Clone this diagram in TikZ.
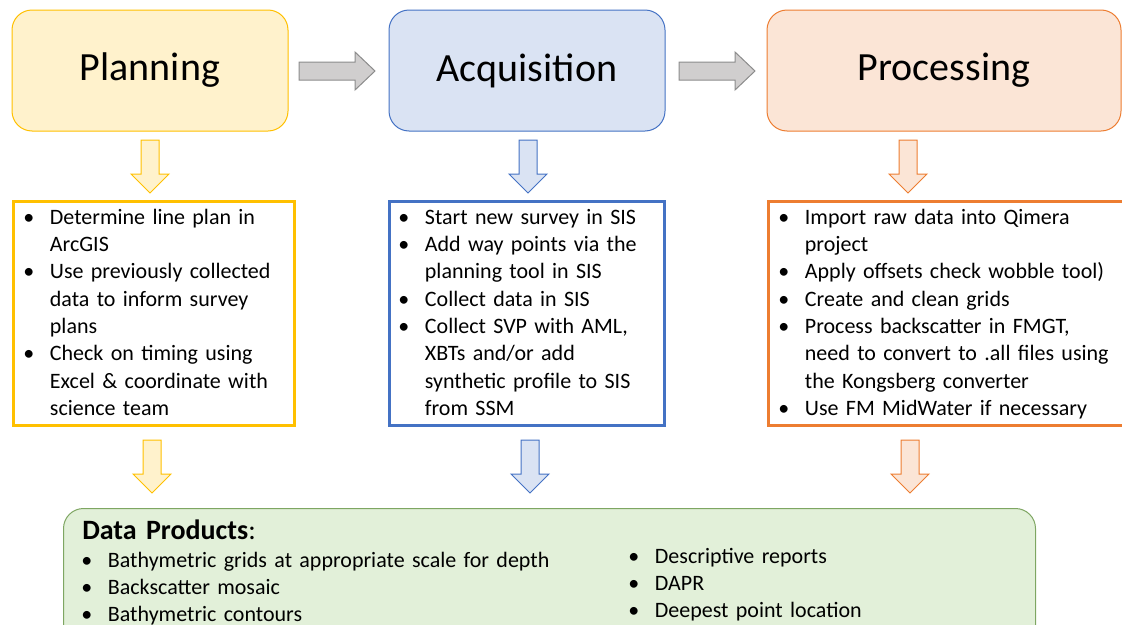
\documentclass[tikz,border=0pt]{standalone}
\usepackage{fontspec}
\setmainfont{Carlito}
\usetikzlibrary{calc}

\definecolor{planfill}{HTML}{FFF2CC}
\definecolor{planline}{HTML}{FFC000}
\definecolor{acqfill}{HTML}{DAE3F3}
\definecolor{acqline}{HTML}{4472C4}
\definecolor{procfill}{HTML}{FBE5D6}
\definecolor{procline}{HTML}{ED7D31}
\definecolor{prodfill}{HTML}{E2F0D9}
\definecolor{prodline}{HTML}{7EA662}
\definecolor{arrfill}{HTML}{D0CECE}
\definecolor{arrline}{HTML}{8C8C8C}

\newlength{\bulsep}\setlength{\bulsep}{20pt}
% bullets: \fitm opens a list, \itm starts each next item
\newcommand{\fitm}{\hangindent=\bulsep\hangafter=1\makebox[\bulsep][l]{\textbullet}}
\newcommand{\itm}{\par\fitm}
% block arrows: style, x of centre / start, top y / middle y
\newcommand{\dnblock}[3]{\draw[blockarrow,#1] (#2-9,#3) -- (#2+9,#3) -- (#2+9,#3+34) -- (#2+19,#3+34) -- (#2,#3+53) -- (#2-19,#3+34) -- (#2-9,#3+34) -- cycle;}
\newcommand{\rtblock}[2]{\draw[blockarrow,fill=arrfill,draw=arrline] (#1,#2-9) -- (#1+56,#2-9) -- (#1+56,#2-19) -- (#1+76,#2) -- (#1+56,#2+19) -- (#1+56,#2+9) -- (#1,#2+9) -- cycle;}

\tikzset{
	phase/.style={rounded corners=15pt, line width=0.75pt, minimum height=121*0.75pt, inner sep=0pt, font=\fontsize{30}{34}\selectfont},
	steps/.style={line width=2.25pt, anchor=north west, minimum height=224*0.75pt, inner sep=0pt},
	listtext/.style={anchor=base west, inner sep=0pt, text width=500pt, font=\fontsize{16.5}{20.5}\selectfont},
	blockarrow/.style={line width=0.75pt, line join=miter},
	product/.style={rounded corners=15pt, line width=0.75pt, fill=prodfill, draw=prodline, anchor=north west, inner sep=0pt},
}

\begin{document}
\begin{tikzpicture}[x=0.75pt, y=-0.75pt]
			%%%%% FRAME %%%%%
			\useasboundingbox (0,0) rectangle (1122,625);
			\clip (0,0) rectangle (1122,625);
			
			%%%%% PHASES %%%%%
			\node[phase, fill=planfill, draw=planline, minimum width=276*0.75pt] (plan) at (150,70.5) {Planning};
			\node[phase, fill=acqfill, draw=acqline, minimum width=276*0.75pt] (acq) at (527,70.5) {Acquisition};
			\node[phase, fill=procfill, draw=procline, minimum width=354*0.75pt] (proc) at (944,70.5) {Processing};
			
			\rtblock{299}{71}
			\rtblock{679}{71}
			
			\dnblock{fill=planfill, draw=planline}{150}{140}
			\dnblock{fill=acqfill, draw=acqline}{528}{140}
			\dnblock{fill=procfill, draw=procline}{908}{140}
			
			%%%%% STEPS %%%%%
			\node[steps, draw=planline, minimum width=281*0.75pt] (planlist) at (12,200) {};
			\node[steps, draw=acqline, minimum width=275*0.75pt] (acqlist) at (388,200) {};
			\node[steps, draw=procline, minimum width=380*0.75pt] (proclist) at (767,200) {};
			
			\node[listtext] (plantext) at (23,224) {%
				\fitm Determine line plan in\newline ArcGIS
				\itm Use previously collected\newline data to inform survey\newline plans
				\itm Check on timing using\newline Excel \& coordinate with\newline science team\par};
			\node[listtext] (acqtext) at (398,224) {%
				\fitm Start new survey in SIS
				\itm Add way points via the\newline planning tool in SIS
				\itm Collect data in SIS
				\itm Collect SVP with AML,\newline XBTs and/or add\newline synthetic profile to SIS\newline from SSM\par};
			\node[listtext] (proctext) at (778,224) {%
				\fitm Import raw data into Qimera\newline project
				\itm Apply offsets check wobble tool)
				\itm Create and clean grids
				\itm Process backscatter in FMGT,\newline need to convert to .all files using\newline the Kongsberg converter
				\itm Use FM MidWater if necessary\par};
			
			\dnblock{fill=planfill, draw=planline}{152}{440}
			\dnblock{fill=acqfill, draw=acqline}{530}{440}
			\dnblock{fill=procfill, draw=procline}{910}{440}
			
			%%%%% PRODUCTS %%%%%
			\node[product, minimum width=972*0.75pt, minimum height=160*0.75pt] (products) at (63,508) {};
			\node[listtext, font=\fontsize{21}{24}\selectfont] (prodhead) at (82,539) {\textbf{Data Products}:\par};
			\node[listtext] (prodleft) at (81,567) {%
				\fitm Bathymetric grids at appropriate scale for depth
				\itm Backscatter mosaic
				\itm Bathymetric contours\par};
			\node[listtext] (prodright) at (628,563) {%
				\fitm Descriptive reports
				\itm DAPR
				\itm Deepest point location\par};
		\end{tikzpicture}
\end{document}
